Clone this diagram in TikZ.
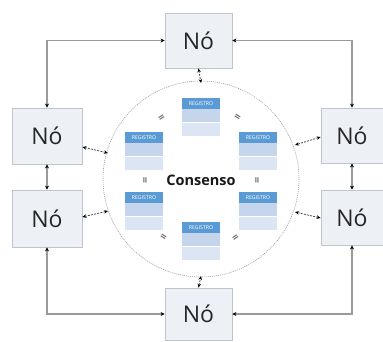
\documentclass[tikz,border=0pt]{standalone}
\usepackage{fontspec}
\setmainfont{Open Sans}
\usetikzlibrary{arrows.meta}
\definecolor{boxfill}{HTML}{EDF0F5}
\definecolor{boxline}{HTML}{BFC5CD}
\definecolor{ringline}{HTML}{9A9A9A}
\definecolor{reghead}{HTML}{5B9BD5}
\definecolor{regrowa}{HTML}{C5D5EC}
\definecolor{regrowb}{HTML}{DCE5F3}
\tikzset{
  nobox/.style={draw=boxline, fill=boxfill, line width=0.8pt, inner sep=0pt,
    font=\fontsize{23}{25}\selectfont, text=black!85},
  ringarrow/.style={draw=ringline, line width=1.5pt,
    {Stealth[length=4pt,width=4pt,black]}-{Stealth[length=4pt,width=4pt,black]}},
  linkarrow/.style={draw=black!70, line width=0.8pt, dash pattern=on 2pt off 1.2pt,
    {Stealth[length=4pt,width=3.5pt,black]}-{Stealth[length=4pt,width=3.5pt,black]}},
  eqmark/.style={font=\bfseries\fontsize{11}{11}\selectfont, text=black!55, inner sep=0pt},
}
\newcommand{\regblock}[3]{%
  \fill[regrowb] (#1,#2+11) rectangle (#1+38,#2+38);
  \fill[regrowa] (#1,#2+11) rectangle (#1+38,#2+24);
  \draw[white, line width=0.5pt] (#1,#2+24) -- (#1+38,#2+24);
  \fill[reghead] (#1,#2) rectangle (#1+38,#2+11);
  \node[font=\fontsize{5.2}{6}\selectfont, text=white, inner sep=0pt] (#3) at (#1+19,#2+5.5) {REGISTRO};
}
\begin{document}
\begin{tikzpicture}[x=1pt,y=-1pt]
\useasboundingbox (0,0) rectangle (383,341);
\fill[white] (0,0) rectangle (383,341);
% circle
\draw[ringline, line width=0.6pt, dash pattern=on 1pt off 1pt] (201,179) circle (98);
% nodes
\node[nobox, minimum width=67pt, minimum height=55pt] (top) at (198.5,40.5) {Nó};
\node[nobox, minimum width=67pt, minimum height=52pt] (bot) at (198.5,314) {Nó};
\node[nobox, minimum width=70pt, minimum height=56pt] (lt) at (47,136) {Nó};
\node[nobox, minimum width=70pt, minimum height=57pt] (lb) at (47,218.5) {Nó};
\node[nobox, minimum width=62pt, minimum height=55pt] (rt) at (352,135.5) {Nó};
\node[nobox, minimum width=62pt, minimum height=55pt] (rb) at (352,217.5) {Nó};
% outer ring connectors
\draw[ringarrow] (top.west) -| (lt.north);
\draw[ringarrow] (top.east) -| (rt.north);
\draw[ringarrow] (bot.west) -| (lb.south);
\draw[ringarrow] (bot.east) -| (rb.south);
\draw[ringarrow] (lt.south) -- (lb.north);
\draw[ringarrow] (rt.south) -- (rb.north);
% circle attachment points
\coordinate (ctop) at (201,83);
\coordinate (cbot) at (201,276);
\coordinate (clt) at (108,153);
\coordinate (clb) at (108,211);
\coordinate (crt) at (295,145);
\coordinate (crb) at (295,212);
\draw[linkarrow] (top.south) -- (ctop);
\draw[linkarrow] (bot.north) -- (cbot);
\draw[linkarrow] (lt.east |- 0,147) -- (clt);
\draw[linkarrow] (lb.east |- 0,217) -- (clb);
\draw[linkarrow] (rt.west |- 0,137) -- (crt);
\draw[linkarrow] (rb.west |- 0,218) -- (crb);
% registers
\regblock{182}{98}{r1}
\regblock{125}{132}{r2}
\regblock{239}{132}{r3}
\regblock{125}{192}{r4}
\regblock{239}{192}{r5}
\regblock{182}{222}{r6}
% consensus
\node[font=\bfseries\fontsize{14.5}{16}\selectfont, text=black!90, inner sep=0pt] (cons) at (201,180) {Consenso};
% equality marks
\node[eqmark, rotate=32] (e1) at (162,118) {=};
\node[eqmark, rotate=-32] (e2) at (237,118) {=};
\node[eqmark, rotate=90] (e3) at (146,180) {=};
\node[eqmark, rotate=90] (e4) at (258,180) {=};
\node[eqmark, rotate=-32] (e5) at (163,238) {=};
\node[eqmark, rotate=32] (e6) at (236,238) {=};
\end{tikzpicture}
\end{document}
